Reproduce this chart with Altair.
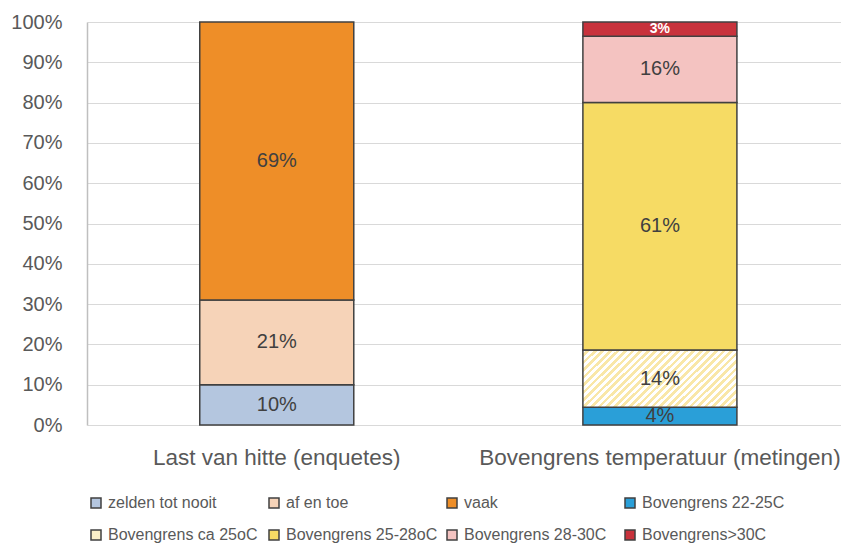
import altair as alt
import pandas as pd

groups = ["Last van hitte (enquetes)", "Bovengrens temperatuur (metingen)"]
categories = [
    "zelden tot nooit", "af en toe", "vaak", "Bovengrens 22-25C",
    "Bovengrens ca 25oC", "Bovengrens 25-28oC", "Bovengrens 28-30C", "Bovengrens>30C",
]
colors = ["#B4C6DF", "#F6D3B8", "#EE8E28", "#2A9FD8",
          "#FBF0C8", "#F6DB64", "#F4C3C1", "#C8323C"]

left_cats = categories[:3]
left_vals = [0.10, 0.21, 0.69]
right_cats = categories[3:]
right_vals = [0.044, 0.142, 0.614, 0.1649, 0.0349]

rows = []
for i, (c, v) in enumerate(zip(left_cats, left_vals)):
    rows.append({"group": groups[0], "cat": c, "value": v, "order": i})
for i, (c, v) in enumerate(zip(right_cats, right_vals)):
    rows.append({"group": groups[1], "cat": c, "value": v, "order": i})
df = pd.DataFrame(rows)

FONT = "Liberation Sans"
GRAY = "#595959"

# diagonal hatch via a striped linear gradient
N = 28
stops = []
for k in range(N):
    stops.append({"offset": k / N, "color": "#FFFFFF"})
    stops.append({"offset": (k + 0.5) / N, "color": "#FFFFFF"})
    stops.append({"offset": (k + 0.5) / N, "color": "#F9E7A8"})
    stops.append({"offset": (k + 1) / N, "color": "#F9E7A8"})
hatch = {"gradient": "linear", "x1": 0, "y1": 0, "x2": 1.206, "y2": 0.455, "stops": stops}

base = alt.Chart(df).transform_stack(
    stack="value", as_=["y0", "y1"], groupby=["group"],
    sort=[alt.SortField("order", order="ascending")],
).transform_calculate(mid="(datum.y0 + datum.y1) / 2")

xenc = alt.X(
    "group:N", sort=groups, title=None,
    scale=alt.Scale(paddingInner=0.598, paddingOuter=0.283, align=0.52),
    axis=alt.Axis(labelAngle=0, labelFontSize=22.5, labelColor=GRAY, labelFont=FONT,
                  labelPadding=21, ticks=False, domain=False, labelLimit=500),
)
yscale = alt.Scale(domain=[0, 1], nice=False)

bars = base.mark_bar(stroke="#404040", strokeWidth=1.5).encode(
    x=xenc,
    y=alt.Y("y0:Q", scale=yscale, title=None,
            axis=alt.Axis(format=".0%", values=[i / 10 for i in range(11)],
                          labelFontSize=20, labelColor=GRAY, labelFont=FONT,
                          ticks=False, tickSize=0, labelPadding=25,
                          domain=True, domainColor="#BFBFBF", domainWidth=1.5,
                          grid=True, gridColor="#D9D9D9", gridWidth=1.2)),
    y2="y1:Q",
    fill=alt.condition(
        alt.datum.cat == "Bovengrens ca 25oC",
        alt.value(hatch),
        alt.Fill("cat:N", scale=alt.Scale(domain=categories, range=colors),
                 legend=alt.Legend(
                     title=None, orient="none", legendX=1, legendY=473,
                     direction="horizontal",
                     columns=4, gridAlign="all", columnPadding=6, rowPadding=16,
                     symbolType="square", symbolSize=100, symbolStrokeColor="#404040",
                     symbolStrokeWidth=1.5, symbolOpacity=1, labelFont=FONT,
                     labelFontSize=16, labelColor=GRAY, labelLimit=300, labelOffset=4,
                 )),
    ),
)

labels = base.transform_filter(alt.datum.cat != "Bovengrens>30C").mark_text(
    font=FONT, fontSize=20, color="#404040", baseline="middle"
).encode(
    x=alt.X("group:N", sort=groups),
    y=alt.Y("mid:Q", scale=yscale),
    text=alt.Text("value:Q", format=".0%"),
)

red_label = base.transform_filter(alt.datum.cat == "Bovengrens>30C").mark_text(
    font=FONT, fontSize=14, fontWeight="bold", color="white", baseline="middle"
).encode(
    x=alt.X("group:N", sort=groups),
    y=alt.Y("mid:Q", scale=yscale),
    text=alt.Text("value:Q", format=".0%"),
)

chart = alt.layer(bars, labels, red_label).properties(
    width=754, height=403,
    autosize=alt.AutoSizeParams(type="none"),
    padding={"left": 79, "top": 14, "right": 0, "bottom": 122},
).configure_view(stroke=None)

chart.save("out.html", embed_options={"renderer": "svg", "actions": False})
